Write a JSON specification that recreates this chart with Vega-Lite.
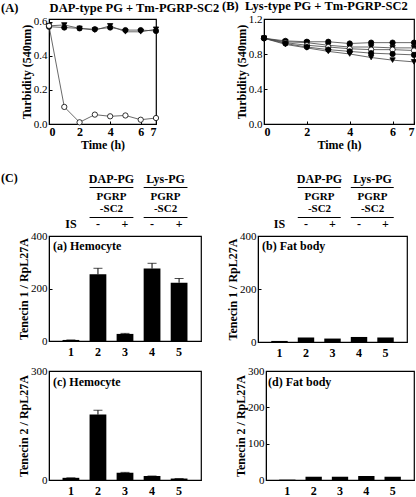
{
  "$schema": "https://vega.github.io/schema/vega-lite/v6.json",
  "padding": {"left": 0, "top": -2, "right": 0, "bottom": 0},
  "background": "white",
  "config": {
    "font": "Liberation Serif",
    "view": {"stroke": "black", "strokeWidth": 1.2},
    "axis": {
      "grid": false, "domainColor": "black", "tickColor": "black", "labelColor": "black", "titleColor": "black",
      "labelFontSize": 11, "titleFontSize": 12, "titleFontWeight": "bold", "labelFont": "Liberation Serif", "titleFont": "Liberation Serif"
    },
    "title": {"font": "Liberation Serif", "fontWeight": "bold", "fontSize": 12, "color": "black"}
  },
  "datasets": {
    "turbA": [
      {"series": "a1", "time": 0, "turbidity": 0.57}, {"series": "a1", "time": 1, "turbidity": 0.565}, {"series": "a1", "time": 2, "turbidity": 0.56}, {"series": "a1", "time": 3, "turbidity": 0.555}, {"series": "a1", "time": 4, "turbidity": 0.565}, {"series": "a1", "time": 5, "turbidity": 0.55}, {"series": "a1", "time": 6, "turbidity": 0.55}, {"series": "a1", "time": 7, "turbidity": 0.545},
      {"series": "a2", "time": 0, "turbidity": 0.575}, {"series": "a2", "time": 1, "turbidity": 0.58}, {"series": "a2", "time": 2, "turbidity": 0.56}, {"series": "a2", "time": 3, "turbidity": 0.55}, {"series": "a2", "time": 4, "turbidity": 0.575}, {"series": "a2", "time": 5, "turbidity": 0.54}, {"series": "a2", "time": 6, "turbidity": 0.54}, {"series": "a2", "time": 7, "turbidity": 0.555},
      {"series": "a3", "time": 0, "turbidity": 0.575}, {"series": "a3", "time": 1, "turbidity": 0.1}, {"series": "a3", "time": 2, "turbidity": 0.01}, {"series": "a3", "time": 3, "turbidity": 0.055}, {"series": "a3", "time": 4, "turbidity": 0.045}, {"series": "a3", "time": 5, "turbidity": 0.05}, {"series": "a3", "time": 6, "turbidity": 0.025}, {"series": "a3", "time": 7, "turbidity": 0.035}
    ],
    "turbB": [
      {"series": "b1", "time": 0, "turbidity": 0.98}, {"series": "b1", "time": 1, "turbidity": 0.95}, {"series": "b1", "time": 2, "turbidity": 0.94}, {"series": "b1", "time": 3, "turbidity": 0.94}, {"series": "b1", "time": 4, "turbidity": 0.92}, {"series": "b1", "time": 5, "turbidity": 0.93}, {"series": "b1", "time": 6, "turbidity": 0.93}, {"series": "b1", "time": 7, "turbidity": 0.93},
      {"series": "b2", "time": 0, "turbidity": 0.98}, {"series": "b2", "time": 1, "turbidity": 0.94}, {"series": "b2", "time": 2, "turbidity": 0.93}, {"series": "b2", "time": 3, "turbidity": 0.9}, {"series": "b2", "time": 4, "turbidity": 0.88}, {"series": "b2", "time": 5, "turbidity": 0.88}, {"series": "b2", "time": 6, "turbidity": 0.87}, {"series": "b2", "time": 7, "turbidity": 0.87},
      {"series": "b3", "time": 0, "turbidity": 0.98}, {"series": "b3", "time": 1, "turbidity": 0.93}, {"series": "b3", "time": 2, "turbidity": 0.9}, {"series": "b3", "time": 3, "turbidity": 0.88}, {"series": "b3", "time": 4, "turbidity": 0.86}, {"series": "b3", "time": 5, "turbidity": 0.85}, {"series": "b3", "time": 6, "turbidity": 0.85}, {"series": "b3", "time": 7, "turbidity": 0.84},
      {"series": "b4", "time": 0, "turbidity": 0.98}, {"series": "b4", "time": 1, "turbidity": 0.92}, {"series": "b4", "time": 2, "turbidity": 0.88}, {"series": "b4", "time": 3, "turbidity": 0.85}, {"series": "b4", "time": 4, "turbidity": 0.83}, {"series": "b4", "time": 5, "turbidity": 0.81}, {"series": "b4", "time": 6, "turbidity": 0.8}, {"series": "b4", "time": 7, "turbidity": 0.79},
      {"series": "b5", "time": 0, "turbidity": 0.98}, {"series": "b5", "time": 1, "turbidity": 0.91}, {"series": "b5", "time": 2, "turbidity": 0.87}, {"series": "b5", "time": 3, "turbidity": 0.83}, {"series": "b5", "time": 4, "turbidity": 0.8}, {"series": "b5", "time": 5, "turbidity": 0.76}, {"series": "b5", "time": 6, "turbidity": 0.73}, {"series": "b5", "time": 7, "turbidity": 0.71}
    ],
    "expr": [
      {"panel": "a", "lane": 1, "value": 4, "upper": 4}, {"panel": "a", "lane": 2, "value": 254, "upper": 277}, {"panel": "a", "lane": 3, "value": 27, "upper": 29}, {"panel": "a", "lane": 4, "value": 276, "upper": 296}, {"panel": "a", "lane": 5, "value": 222, "upper": 238},
      {"panel": "b", "lane": 1, "value": 4, "upper": 4}, {"panel": "b", "lane": 2, "value": 17, "upper": 17}, {"panel": "b", "lane": 3, "value": 13, "upper": 13}, {"panel": "b", "lane": 4, "value": 19, "upper": 19}, {"panel": "b", "lane": 5, "value": 17, "upper": 17},
      {"panel": "c", "lane": 1, "value": 6, "upper": 6}, {"panel": "c", "lane": 2, "value": 180, "upper": 192}, {"panel": "c", "lane": 3, "value": 20, "upper": 21}, {"panel": "c", "lane": 4, "value": 11, "upper": 11}, {"panel": "c", "lane": 5, "value": 4, "upper": 4},
      {"panel": "d", "lane": 1, "value": 1, "upper": 1}, {"panel": "d", "lane": 2, "value": 9, "upper": 9}, {"panel": "d", "lane": 3, "value": 9, "upper": 9}, {"panel": "d", "lane": 4, "value": 11, "upper": 11}, {"panel": "d", "lane": 5, "value": 9, "upper": 9}
    ],
    "groups": [
      {"group": "DAP-PG", "protein": "PGRP", "variant": "-SC2", "first": 2, "last": 3},
      {"group": "Lys-PG", "protein": "PGRP", "variant": "-SC2", "first": 4, "last": 5}
    ],
    "treatments": [
      {"lane": 1, "label": "IS"}, {"lane": 2, "label": "-"}, {"lane": 3, "label": "+"}, {"lane": 4, "label": "-"}, {"lane": 5, "label": "+"}
    ]
  },
  "spacing": 20,
  "vconcat": [
    {
      "spacing": 108,
      "bounds": "flush",
      "hconcat": [
        {
          "width": 107, "height": 105,
          "title": {"text": "(A)\u2003\u2003\u2002DAP-type PG + Tm-PGRP-SC2", "anchor": "start", "frame": "group", "dx": -48, "offset": 1, "fontSize": 12.5},
          "data": {"name": "turbA"},
          "encoding": {
            "x": {"field": "time", "type": "quantitative", "scale": {"domain": [0, 7], "nice": false}, "axis": {"values": [0, 2, 4, 6, 7], "title": "Time (h)", "labelFontWeight": "bold", "labelFontSize": 12, "tickSize": -3, "labelPadding": 5, "titlePadding": 2}},
            "y": {"field": "turbidity", "type": "quantitative", "scale": {"domain": [0, 0.615], "nice": false}, "axis": {"values": [0, 0.2, 0.4, 0.6], "title": "Turbidity (540nm)", "tickSize": -3, "labelPadding": 5, "titlePadding": 0}},
            "detail": {"field": "series"}
          },
          "layer": [
            {"mark": {"type": "line", "color": "#444", "strokeWidth": 0.8}},
            {"mark": {"type": "point", "filled": true, "stroke": "black", "strokeWidth": 0.8, "size": 28, "opacity": 1},
             "encoding": {
               "shape": {"field": "series", "scale": {"domain": ["a1", "a2", "a3"], "range": ["circle", "triangle-down", "circle"]}, "legend": null},
               "fill": {"field": "series", "scale": {"domain": ["a1", "a2", "a3"], "range": ["black", "black", "white"]}, "legend": null}
             }}
          ]
        },
        {
          "width": 150, "height": 105,
          "title": {"text": "(B)\u2002Lys-type PG + Tm-PGRP-SC2", "anchor": "start", "frame": "group", "dx": -42, "offset": 1, "fontSize": 12.5},
          "data": {"name": "turbB"},
          "encoding": {
            "x": {"field": "time", "type": "quantitative", "scale": {"domain": [0, 7], "nice": false}, "axis": {"values": [0, 2, 4, 6, 7], "title": "Time (h)", "labelFontWeight": "bold", "labelFontSize": 12, "tickSize": -3, "labelPadding": 5, "titlePadding": 2}},
            "y": {"field": "turbidity", "type": "quantitative", "scale": {"domain": [0, 1.2], "nice": false}, "axis": {"values": [0, 0.4, 0.8, 1.2], "title": "Turbidity (540nm)", "tickSize": -3, "labelPadding": 5, "titlePadding": 0}},
            "detail": {"field": "series"}
          },
          "layer": [
            {"mark": {"type": "line", "color": "#444", "strokeWidth": 0.8}},
            {"mark": {"type": "point", "filled": true, "stroke": "black", "strokeWidth": 0.8, "size": 28, "opacity": 1},
             "encoding": {
               "shape": {"field": "series", "scale": {"domain": ["b1", "b2", "b3", "b4", "b5"], "range": ["circle", "circle", "triangle-down", "triangle-up", "square"]}, "legend": null},
               "fill": {"field": "series", "scale": {"domain": ["b1", "b2", "b3", "b4", "b5"], "range": ["black", "white", "black", "white", "black"]}, "legend": null}
             }}
          ]
        }
      ]
    },
    {
      "spacing": 5,
      "vconcat": [
        {
          "spacing": 23,
          "hconcat": [
            {
              "spacing": -1,
              "vconcat": [
                {
                  "width": 152, "height": 48,
                  "view": {"stroke": null},
                  "title": {"text": "(C)", "anchor": "start", "frame": "group", "dx": -48, "offset": -12},
                  "layer": [
                    {"data": {"name": "groups"}, "mark": {"type": "text", "fontWeight": "bold", "fontSize": 12, "dx": 13.5},
                     "encoding": {"x": {"field": "first", "type": "ordinal", "scale": {"type": "band", "domain": [1, 2, 3, 4, 5], "paddingInner": 0.38, "paddingOuter": 0.5}, "axis": null},
                       "y": {"datum": "h0", "type": "ordinal", "scale": {"type": "point", "domain": ["h0", "h1", "h2", "h3", "h4", "h5", "h6", "h7", "h8", "h9", "h10", "h11", "h12", "h13", "h14", "h15"], "padding": 0.5}, "axis": null},
                       "text": {"field": "group"}}},
                    {"data": {"name": "groups"}, "mark": {"type": "rule", "strokeWidth": 1},
                     "encoding": {"x": {"field": "first", "type": "ordinal", "bandPosition": 0, "axis": null}, "x2": {"field": "last", "bandPosition": 1}, "y": {"datum": "h3", "type": "ordinal", "axis": null}}},
                    {"data": {"name": "groups"}, "mark": {"type": "text", "fontWeight": "bold", "fontSize": 11, "dx": 13.5},
                     "encoding": {"x": {"field": "first", "type": "ordinal", "axis": null}, "y": {"datum": "h6", "type": "ordinal", "axis": null}, "text": {"field": "protein"}}},
                    {"data": {"name": "groups"}, "mark": {"type": "text", "fontWeight": "bold", "fontSize": 11, "dx": 13.5},
                     "encoding": {"x": {"field": "first", "type": "ordinal", "axis": null}, "y": {"datum": "h10", "type": "ordinal", "axis": null}, "text": {"field": "variant"}}},
                    {"data": {"name": "groups"}, "mark": {"type": "rule", "strokeWidth": 1},
                     "encoding": {"x": {"field": "first", "type": "ordinal", "bandPosition": 0, "axis": null}, "x2": {"field": "last", "bandPosition": 1}, "y": {"datum": "h13", "type": "ordinal", "axis": null}}},
                    {"data": {"name": "treatments"}, "mark": {"type": "text", "fontWeight": "bold", "fontSize": 12},
                     "encoding": {"x": {"field": "lane", "type": "ordinal", "axis": null}, "y": {"datum": "h15", "type": "ordinal", "axis": null}, "text": {"field": "label"}}}
                  ]
                },
                {
                  "width": 152, "height": 105,
                  "title": {"text": "(a) Hemocyte", "anchor": "start", "frame": "group", "dx": 4, "offset": -23},
                  "data": {"name": "expr"},
                  "transform": [{"filter": "datum.panel === 'a'"}],
                  "encoding": {
                    "x": {"field": "lane", "type": "ordinal", "scale": {"type": "band", "domain": [1, 2, 3, 4, 5], "paddingInner": 0.38, "paddingOuter": 0.5}, "axis": {"title": null, "labelAngle": 0, "labelFontWeight": "bold", "labelFontSize": 12, "ticks": false, "labelPadding": 5}}
                  },
                  "layer": [
                    {"mark": {"type": "bar", "color": "black"}, "encoding": {"y": {"field": "value", "type": "quantitative", "scale": {"domain": [0, 400], "nice": false}, "axis": {"values": [0, 100, 200, 300, 400], "title": "Tenecin 1 / RpL27A", "tickSize": -3, "labelPadding": 5, "titlePadding": 0}}}},
                    {"mark": {"type": "rule", "color": "black", "strokeWidth": 1}, "encoding": {"y": {"field": "value", "type": "quantitative"}, "y2": {"field": "upper"}}},
                    {"mark": {"type": "tick", "color": "black", "thickness": 1, "size": 9}, "encoding": {"y": {"field": "upper", "type": "quantitative"}}}
                  ]
                }
              ]
            },
            {
              "spacing": -1,
              "vconcat": [
                {
                  "width": 149, "height": 48,
                  "view": {"stroke": null},
                  "layer": [
                    {"data": {"name": "groups"}, "mark": {"type": "text", "fontWeight": "bold", "fontSize": 12, "dx": 13.5},
                     "encoding": {"x": {"field": "first", "type": "ordinal", "scale": {"type": "band", "domain": [1, 2, 3, 4, 5], "paddingInner": 0.38, "paddingOuter": 0.5}, "axis": null},
                       "y": {"datum": "h0", "type": "ordinal", "scale": {"type": "point", "domain": ["h0", "h1", "h2", "h3", "h4", "h5", "h6", "h7", "h8", "h9", "h10", "h11", "h12", "h13", "h14", "h15"], "padding": 0.5}, "axis": null},
                       "text": {"field": "group"}}},
                    {"data": {"name": "groups"}, "mark": {"type": "rule", "strokeWidth": 1},
                     "encoding": {"x": {"field": "first", "type": "ordinal", "bandPosition": 0, "axis": null}, "x2": {"field": "last", "bandPosition": 1}, "y": {"datum": "h3", "type": "ordinal", "axis": null}}},
                    {"data": {"name": "groups"}, "mark": {"type": "text", "fontWeight": "bold", "fontSize": 11, "dx": 13.5},
                     "encoding": {"x": {"field": "first", "type": "ordinal", "axis": null}, "y": {"datum": "h6", "type": "ordinal", "axis": null}, "text": {"field": "protein"}}},
                    {"data": {"name": "groups"}, "mark": {"type": "text", "fontWeight": "bold", "fontSize": 11, "dx": 13.5},
                     "encoding": {"x": {"field": "first", "type": "ordinal", "axis": null}, "y": {"datum": "h10", "type": "ordinal", "axis": null}, "text": {"field": "variant"}}},
                    {"data": {"name": "groups"}, "mark": {"type": "rule", "strokeWidth": 1},
                     "encoding": {"x": {"field": "first", "type": "ordinal", "bandPosition": 0, "axis": null}, "x2": {"field": "last", "bandPosition": 1}, "y": {"datum": "h13", "type": "ordinal", "axis": null}}},
                    {"data": {"name": "treatments"}, "mark": {"type": "text", "fontWeight": "bold", "fontSize": 12},
                     "encoding": {"x": {"field": "lane", "type": "ordinal", "axis": null}, "y": {"datum": "h15", "type": "ordinal", "axis": null}, "text": {"field": "label"}}}
                  ]
                },
                {
                  "width": 149, "height": 106,
                  "title": {"text": "(b) Fat body", "anchor": "start", "frame": "group", "dx": 4, "offset": -23},
                  "data": {"name": "expr"},
                  "transform": [{"filter": "datum.panel === 'b'"}],
                  "encoding": {
                    "x": {"field": "lane", "type": "ordinal", "scale": {"type": "band", "domain": [1, 2, 3, 4, 5], "paddingInner": 0.38, "paddingOuter": 0.5}, "axis": {"title": null, "labelAngle": 0, "labelFontWeight": "bold", "labelFontSize": 12, "ticks": false, "labelPadding": 5}}
                  },
                  "layer": [
                    {"mark": {"type": "bar", "color": "black"}, "encoding": {"y": {"field": "value", "type": "quantitative", "scale": {"domain": [0, 400], "nice": false}, "axis": {"values": [0, 100, 200, 300, 400], "title": "Tenecin 1 / RpL27A", "tickSize": -3, "labelPadding": 5, "titlePadding": 0}}}},
                    {"mark": {"type": "rule", "color": "black", "strokeWidth": 1}, "encoding": {"y": {"field": "value", "type": "quantitative"}, "y2": {"field": "upper"}}}
                  ]
                }
              ]
            }
          ]
        },
        {
          "spacing": 65,
          "bounds": "flush",
          "hconcat": [
            {
              "width": 152, "height": 109,
              "title": {"text": "(c) Hemocyte", "anchor": "start", "frame": "group", "dx": 4, "offset": -24},
              "data": {"name": "expr"},
              "transform": [{"filter": "datum.panel === 'c'"}],
              "encoding": {
                "x": {"field": "lane", "type": "ordinal", "scale": {"type": "band", "domain": [1, 2, 3, 4, 5], "paddingInner": 0.38, "paddingOuter": 0.5}, "axis": {"title": null, "labelAngle": 0, "labelFontWeight": "bold", "labelFontSize": 12, "ticks": false, "labelPadding": 5}}
              },
              "layer": [
                {"mark": {"type": "bar", "color": "black"}, "encoding": {"y": {"field": "value", "type": "quantitative", "scale": {"domain": [0, 300], "nice": false}, "axis": {"values": [0, 100, 200, 300], "title": "Tenecin 2 / RpL27A", "tickSize": -3, "labelPadding": 5, "titlePadding": 0}}}},
                {"mark": {"type": "rule", "color": "black", "strokeWidth": 1}, "encoding": {"y": {"field": "value", "type": "quantitative"}, "y2": {"field": "upper"}}},
                {"mark": {"type": "tick", "color": "black", "thickness": 1, "size": 9}, "encoding": {"y": {"field": "upper", "type": "quantitative"}}}
              ]
            },
            {
              "width": 148, "height": 109,
              "title": {"text": "(d) Fat body", "anchor": "start", "frame": "group", "dx": 2, "offset": -24},
              "data": {"name": "expr"},
              "transform": [{"filter": "datum.panel === 'd'"}],
              "encoding": {
                "x": {"field": "lane", "type": "ordinal", "scale": {"type": "band", "domain": [1, 2, 3, 4, 5], "paddingInner": 0.38, "paddingOuter": 0.5}, "axis": {"title": null, "labelAngle": 0, "labelFontWeight": "bold", "labelFontSize": 12, "ticks": false, "labelPadding": 5}}
              },
              "layer": [
                {"mark": {"type": "bar", "color": "black"}, "encoding": {"y": {"field": "value", "type": "quantitative", "scale": {"domain": [0, 300], "nice": false}, "axis": {"values": [0, 100, 200, 300], "title": "Tenecin 2 / RpL27A", "tickSize": -3, "labelPadding": 5, "titlePadding": 0}}}}
              ]
            }
          ]
        }
      ]
    }
  ]
}
